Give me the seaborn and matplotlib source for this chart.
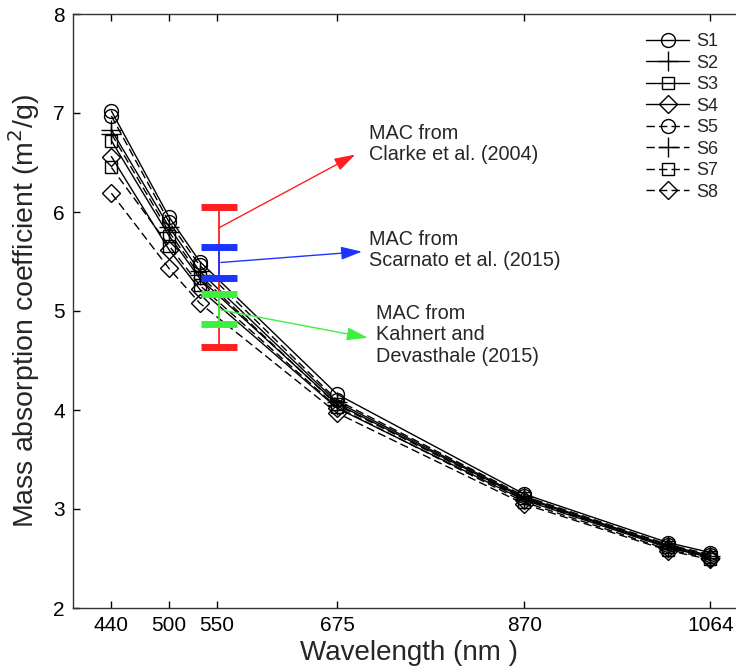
import numpy as np
import pandas as pd
import matplotlib
matplotlib.use("Agg")
import matplotlib.pyplot as plt
import seaborn as sns

# ---- data ----
wavelengths = [440, 500, 532, 675, 870, 1020, 1064]
series_names = ["S1", "S2", "S3", "S4", "S5", "S6", "S7", "S8"]
s1 = [7.02, 5.95, 5.50, 4.16, 3.15, 2.66, 2.56]
s2 = [6.83, 5.85, 5.40, 4.08, 3.12, 2.63, 2.53]
s3 = [6.72, 5.76, 5.33, 4.06, 3.11, 2.62, 2.52]
s4 = [6.56, 5.62, 5.22, 4.02, 3.09, 2.61, 2.51]
s5 = [6.97, 5.90, 5.46, 4.10, 3.13, 2.64, 2.54]
s6 = [6.79, 5.80, 5.36, 4.05, 3.10, 2.61, 2.51]
s7 = [6.45, 5.66, 5.26, 4.03, 3.07, 2.59, 2.50]
s8 = [6.19, 5.43, 5.08, 3.97, 3.05, 2.58, 2.49]
series_values = [s1, s2, s3, s4, s5, s6, s7, s8]

xticks = [440, 500, 550, 675, 870, 1064]
yticks = [2, 3, 4, 5, 6, 7, 8]

# reference MAC ranges at 550 nm: (low, high)
ref_x = 552
clarke_range = [4.64, 6.05]
scarnato_range = [5.33, 5.65]
kahnert_range = [4.87, 5.17]

# ---- style ----
sns.set_theme(style="ticks")
plt.rcParams["font.family"] = ["Liberation Sans", "DejaVu Sans"]

fig = plt.figure(figsize=(7.36, 6.69), dpi=100)
ax = fig.add_axes([73 / 736, 61 / 669, 672 / 736, 594 / 669])

markers = ["o", "+", "s", "D", "o", "+", "s", "D"]
msizes = [10, 14, 8, 9, 10, 14, 8, 9]
styles = ["-"] * 4 + [(0, (6, 3))] * 4

for name, vals, m, ms, ls in zip(series_names, series_values, markers, msizes, styles):
    df = pd.DataFrame({"Wavelength": wavelengths, "MAC": vals})
    sns.lineplot(data=df, x="Wavelength", y="MAC", ax=ax, color="black",
                 marker=m, markersize=ms, markerfacecolor="none",
                 markeredgecolor="black", markeredgewidth=1.0,
                 linestyle=ls, linewidth=1.0, label=name)

# reference error bars
def refbar(rng, color, z):
    c = (rng[0] + rng[1]) / 2
    h = (rng[1] - rng[0]) / 2
    ax.errorbar([ref_x], [c], yerr=[[h], [h]], fmt="none", ecolor=color,
                elinewidth=1.3, capsize=13, capthick=5, zorder=z)

red, blue, green = "#ff1f1f", "#1c34ff", "#3ef03e"
refbar(clarke_range, red, 5)
refbar(scarnato_range, blue, 6)
refbar(kahnert_range, green, 7)

arrow_kw = dict(arrowstyle="-|>,head_length=0.8,head_width=0.25", lw=1.0,
                mutation_scale=16, shrinkA=0, shrinkB=0)
ax.annotate("", xy=(694, 6.58), xytext=(ref_x, 5.84),
            arrowprops=dict(color=red, **arrow_kw), zorder=8)
ax.annotate("", xy=(701, 5.60), xytext=(ref_x + 2, 5.49),
            arrowprops=dict(color=blue, **arrow_kw), zorder=8)
ax.annotate("", xy=(707, 4.73), xytext=(ref_x + 2, 5.01),
            arrowprops=dict(color=green, **arrow_kw), zorder=8)

tfs = 14.3
ax.text(708, 6.89, "MAC from\nClarke et al. (2004)", ha="left", va="top",
        fontsize=tfs, linespacing=1.15)
ax.text(708, 5.82, "MAC from\nScarnato et al. (2015)", ha="left", va="top",
        fontsize=tfs, linespacing=1.15)
ax.text(716, 5.07, "MAC from\nKahnert and\nDevasthale (2015)", ha="left",
        va="top", fontsize=tfs, linespacing=1.15)

ax.set_xlim(400, 1100)
ax.set_ylim(2, 8)
ax.set_xticks(xticks)
ax.set_xticklabels([str(t) for t in xticks])
ax.set_yticks(yticks)
ax.tick_params(direction="in", top=True, right=True, length=5, width=1,
               labelsize=15, colors="black", pad=6)
for sp in ax.spines.values():
    sp.set_visible(True)
    sp.set_color("#333333")
    sp.set_linewidth(1.0)

ax.set_xlabel("Wavelength (nm )", fontsize=20, labelpad=3)
ax.set_ylabel("Mass absorption coefficient (m$^2$/g)", fontsize=20.5, labelpad=8)

leg = ax.legend(loc="upper left", bbox_to_anchor=(646 / 736, 1 - 33 / 669),
                bbox_transform=fig.transFigure, frameon=False, fontsize=13,
                handlelength=2.4, handletextpad=0.4, labelspacing=0.25,
                borderaxespad=0, borderpad=0)

fig.savefig("out.png", dpi=100)
